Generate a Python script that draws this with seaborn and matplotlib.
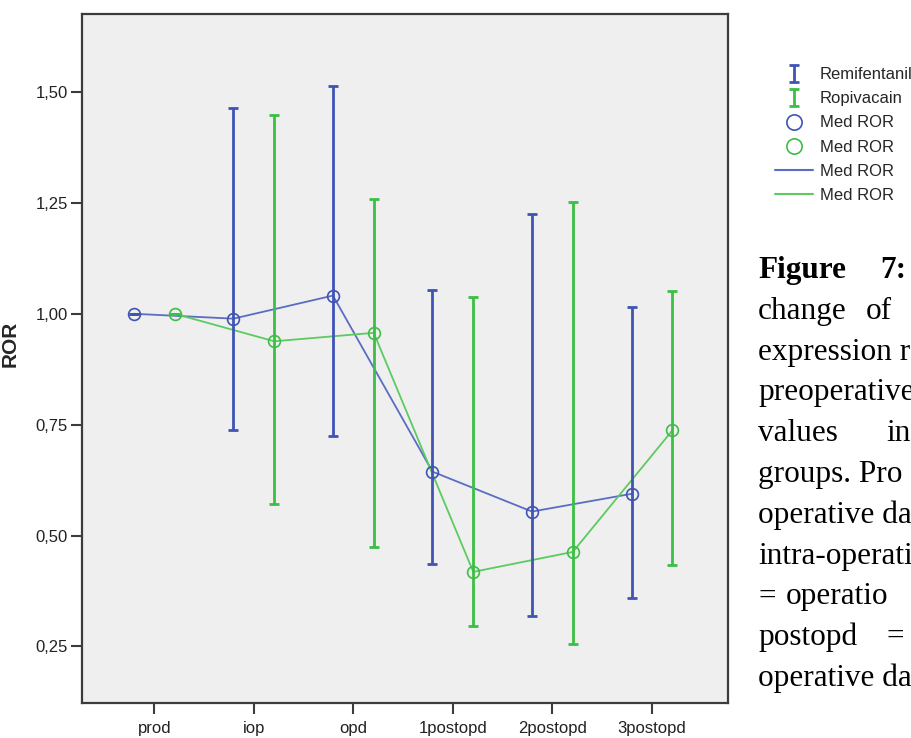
import numpy as np
import pandas as pd
import matplotlib
matplotlib.use("Agg")
import matplotlib.pyplot as plt
import seaborn as sns
from matplotlib.lines import Line2D

# ---- data ----
days = ["prod", "iop", "opd", "1postopd", "2postopd", "3postopd"]
remi_mean = [1.000, 0.989, 1.041, 0.644, 0.554, 0.594]
remi_low = [1.000, 0.738, 0.725, 0.436, 0.319, 0.360]
remi_high = [1.000, 1.465, 1.514, 1.054, 1.224, 1.016]
ropi_mean = [1.000, 0.938, 0.957, 0.418, 0.463, 0.737]
ropi_low = [1.000, 0.570, 0.473, 0.297, 0.256, 0.434]
ropi_high = [1.000, 1.449, 1.259, 1.037, 1.253, 1.052]
groups = ["Remifentanil", "Ropivacain"]
y_ticks = [0.25, 0.50, 0.75, 1.00, 1.25, 1.50]

sns.set_theme(style="white")
plt.rcParams["font.family"] = ["Liberation Sans", "DejaVu Sans"]

BLUE = "#3F54B4"
GREEN = "#3DBE45"
BLUE_L = "#5A6DC2"
GREEN_L = "#5BCB60"

fig = plt.figure(figsize=(9.11, 7.38), dpi=100)
ax = fig.add_axes([81.7 / 911, 1 - 702.7 / 738, (728 - 81.7) / 911, (702.7 - 14) / 738])
ax.set_facecolor("#EFEFEF")

pos = np.arange(len(days))
off = 0.205
rows = []
for g, m, d in [(groups[0], remi_mean, -off), (groups[1], ropi_mean, off)]:
    for i, v in enumerate(m):
        rows.append({"group": g, "x": pos[i] + d, "ROR": v})
df = pd.DataFrame(rows)

sns.lineplot(data=df, x="x", y="ROR", hue="group", palette=[BLUE_L, GREEN_L],
             linewidth=1.3, legend=False, ax=ax, sort=False, zorder=2)

ebs = []
for m, lo, hi, d, c in [(remi_mean, remi_low, remi_high, -off, BLUE),
                        (ropi_mean, ropi_low, ropi_high, off, GREEN)]:
    m = np.array(m); lo = np.array(lo); hi = np.array(hi)
    eb = ax.errorbar(pos + d, m, yerr=[m - lo, hi - m], fmt="none", ecolor=c,
                     elinewidth=2.0, capsize=3.8, capthick=2.0, zorder=3)
    ebs.append(eb)
    ax.plot(pos + d, m, linestyle="none", marker="o", markersize=8.5,
            markerfacecolor="none", markeredgecolor=c, markeredgewidth=1.2, zorder=4)

ax.set_xlim(-0.729, 5.764)
ax.set_ylim(0.123, 1.676)
ax.set_xticks(pos)
ax.set_xticklabels(days)
ax.set_yticks(y_ticks)
ax.set_yticklabels([f"{v:.2f}".replace(".", ",") for v in y_ticks])
ax.set_xlabel("")
ax.set_ylabel("ROR", fontsize=15, fontweight="bold")
ax.yaxis.set_label_coords((20 - 81.7) / 646.3, (702.7 - 344) / 688.7)
for s in ax.spines.values():
    s.set_color("#3C3C3C")
    s.set_linewidth(1.6)
ax.tick_params(axis="both", direction="out", length=8, width=1.5, color="#3C3C3C",
               labelsize=12, labelcolor="#222222", bottom=True, left=True)
ax.tick_params(axis="y", pad=2)
ax.tick_params(axis="x", pad=5)

handles = [ebs[0], ebs[1],
           Line2D([], [], linestyle="none", marker="o", markersize=11, markerfacecolor="none",
                  markeredgecolor=BLUE, markeredgewidth=1.2),
           Line2D([], [], linestyle="none", marker="o", markersize=11, markerfacecolor="none",
                  markeredgecolor=GREEN, markeredgewidth=1.2),
           Line2D([], [], color=BLUE_L, linewidth=1.5),
           Line2D([], [], color=GREEN_L, linewidth=1.5)]
labels = ["Remifentanil", "Ropivacain", "Med ROR", "Med ROR", "Med ROR", "Med ROR"]
fig.legend(handles, labels, loc="upper left", bbox_to_anchor=(760 / 911, 1 - 52 / 738),
           frameon=False, fontsize=12, handlelength=2.3, handletextpad=0.4,
           labelspacing=0.55, borderpad=0.4)

# ---- caption text at right (cut at the figure edge as in the reference) ----
serif = ["Liberation Serif", "DejaVu Serif"]
fs = 22.5
lines = [
    [("Figure", 758, "bold"), ("7:", 880, "bold")],
    [("change", 758, "normal"), ("of", 866, "normal")],
    [("expression r", 758, "normal")],
    [("preoperative", 758, "normal")],
    [("values", 758, "normal"), ("in", 886, "normal")],
    [("groups. Pro", 758, "normal")],
    [("operative da", 758, "normal")],
    [("intra-operati", 758, "normal")],
    [("=", 758, "normal"), ("operatio", 786, "normal")],
    [("postopd", 758, "normal"), ("=", 886, "normal")],
    [("operative da", 758, "normal")],
]
y0, dy = 278, 40.8
for k, words in enumerate(lines):
    yb = y0 + k * dy
    for w, xp, fw in words:
        fig.text(xp / 911, 1 - yb / 738, w, family=serif, fontsize=fs,
                 fontweight=fw, ha="left", va="baseline", color="black")

fig.savefig("out.png", dpi=100)
